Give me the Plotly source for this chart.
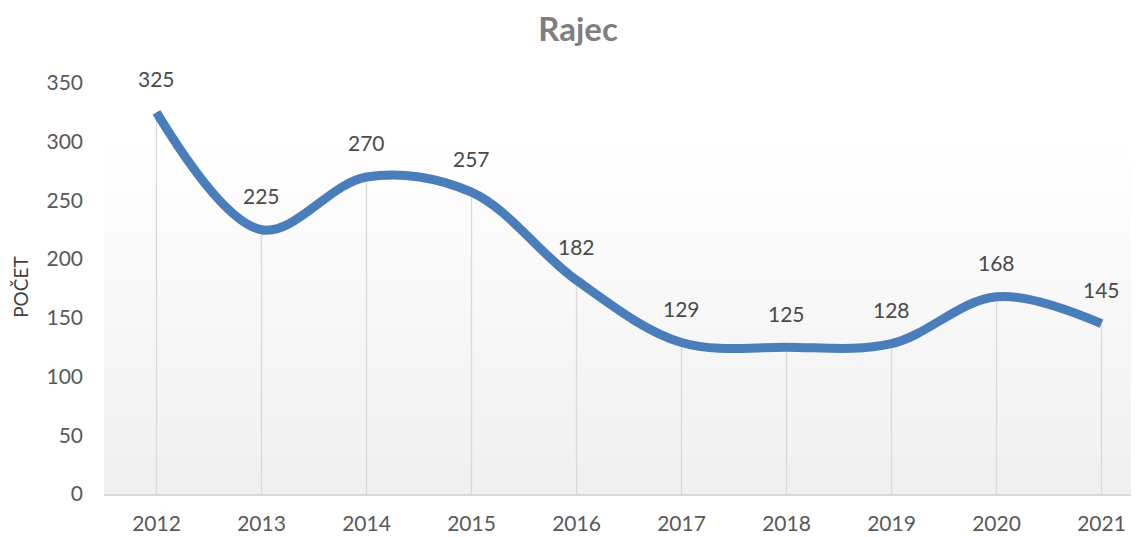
import base64
import plotly.graph_objects as go

years = ["2012", "2013", "2014", "2015", "2016", "2017", "2018", "2019", "2020", "2021"]
counts = [325, 225, 270, 257, 182, 129, 125, 128, 168, 145]
y_ticks = [0, 50, 100, 150, 200, 250, 300, 350]
title_text = "Rajec"
y_title = "POČET"

FONT = "Lato, Carlito, 'Open Sans', sans-serif"

svg = ('<svg xmlns="http://www.w3.org/2000/svg" width="100" height="100" preserveAspectRatio="none">'
       '<defs><linearGradient id="g" x1="0" y1="0" x2="0" y2="1">'
       '<stop offset="0" stop-color="#ffffff"/><stop offset="1" stop-color="#f0f0f0"/>'
       '</linearGradient></defs><rect width="100" height="100" fill="url(#g)"/></svg>')
svg_uri = "data:image/svg+xml;base64," + base64.b64encode(svg.encode()).decode()

xs = list(range(len(years)))

W, H = 1131, 529  # page body has an 8px margin

fig = go.Figure()
# drop lines
fig.add_trace(go.Scatter(
    x=xs, y=counts, mode="markers", marker=dict(size=0.1, color="rgba(0,0,0,0)"),
    error_y=dict(type="data", symmetric=False, array=[0] * len(counts), arrayminus=counts,
                 color="#d9d9d9", thickness=1.3, width=0),
    hoverinfo="skip", showlegend=False,
))
fig.add_trace(go.Scatter(
    x=xs, y=counts, mode="lines",
    line=dict(color="#4A7EBB", width=9, shape="spline", smoothing=1.0),
    showlegend=False, cliponaxis=False,
))

for x, v in zip(xs, counts):
    fig.add_annotation(x=x, y=v, text=str(v), showarrow=False, yshift=34,
                       font=dict(family=FONT, size=21, color="#4a4a4a"))

fig.add_annotation(xref="paper", yref="paper", x=(13 - 96) / 1035, y=0.504, text=y_title,
                   textangle=-90, showarrow=False, xanchor="center", yanchor="middle",
                   font=dict(family=FONT, size=19, color="#404040"))

fig.add_layout_image(dict(source=svg_uri, xref="paper", yref="paper", x=0, y=0.8735,
                          sizex=1, sizey=0.8735, xanchor="left", yanchor="top",
                          sizing="stretch", layer="below"))

fig.update_layout(
    width=W, height=H,
    margin=dict(l=96, r=0, t=75, b=43),
    paper_bgcolor="white", plot_bgcolor="rgba(0,0,0,0)",
    title=dict(text="<b>" + title_text + "</b>", x=570 / W, xref="container", xanchor="center",
               y=1 - 21 / H, yref="container", yanchor="middle",
               font=dict(family=FONT, size=33, color="#7f7f7f")),
    font=dict(family=FONT),
)
fig.update_xaxes(
    range=[-0.5, 9.357], tickvals=xs, ticktext=years, showgrid=False, zeroline=False,
    showline=True, linecolor="#d9d9d9", linewidth=1.5, ticks="",
    tickfont=dict(family=FONT, size=21, color="#595959"), ticklabelstandoff=10,
    automargin=False,
)
fig.update_yaxes(
    range=[0, 350], tickvals=y_ticks, showgrid=False, zeroline=False, showline=False,
    ticks="", tickfont=dict(family=FONT, size=21, color="#595959"), ticklabelstandoff=20,
    automargin=False,
)

fig.write_html("out.html")
